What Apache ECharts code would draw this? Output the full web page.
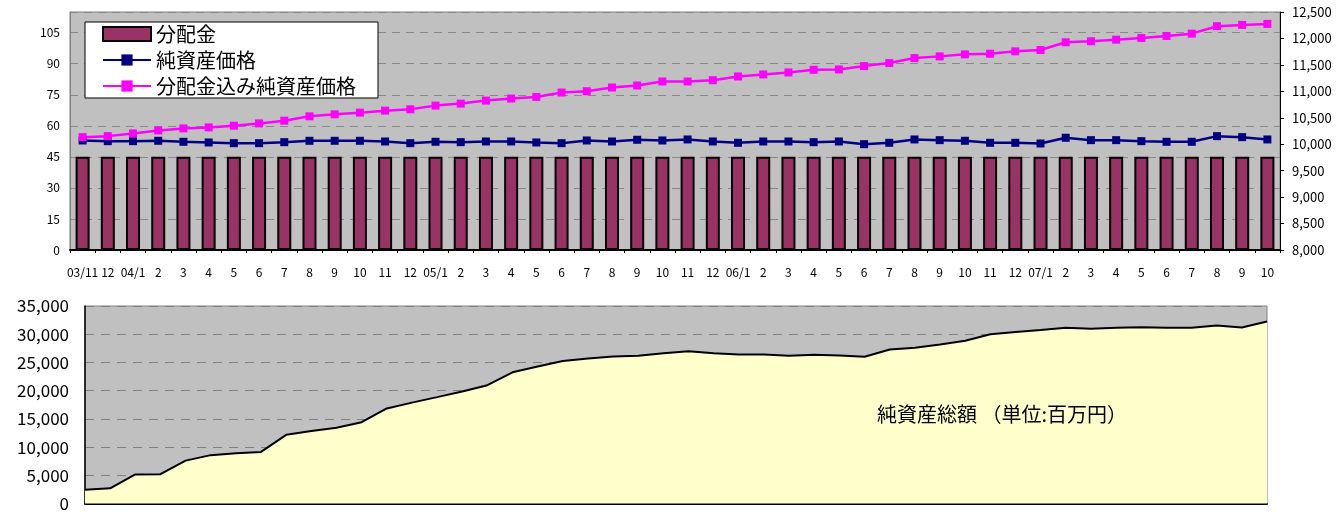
<!DOCTYPE html>
<html>
<head>
<meta charset="utf-8">
<script src="https://cdn.jsdelivr.net/npm/echarts@6/dist/echarts.min.js"></script>
<style>
html,body{margin:0;padding:0;background:#fff;}
#c{width:1337px;height:512px;}
</style>
</head>
<body>
<div id="c"></div>
<script>
var categories = ['03/11','12','04/1','2','3','4','5','6','7','8','9','10','11','12',
  '05/1','2','3','4','5','6','7','8','9','10','11','12',
  '06/1','2','3','4','5','6','7','8','9','10','11','12',
  '07/1','2','3','4','5','6','7','8','9','10'];
var bunpaikin = [45,45,45,45,45,45,45,45,45,45,45,45,45,45,45,45,45,45,45,45,45,45,45,45,
  45,45,45,45,45,45,45,45,45,45,45,45,45,45,45,45,45,45,45,45,45,45,45,45];
var nav = [10071,10058,10058,10065,10046,10033,10020,10020,10039,10065,10065,10065,10052,10020,
  10046,10039,10052,10052,10033,10020,10071,10052,10084,10071,10090,10052,10027,10052,10052,
  10039,10052,10001,10027,10090,10077,10065,10027,10027,10014,10122,10077,10077,10058,10046,
  10046,10153,10134,10090];
var navWithDiv = [10134,10153,10204,10261,10299,10318,10350,10394,10445,10527,10565,10597,10635,
  10660,10730,10768,10825,10863,10894,10977,11002,11072,11110,11186,11186,11211,11281,11319,
  11357,11407,11414,11477,11534,11629,11661,11699,11711,11756,11781,11927,11946,11977,12009,
  12047,12091,12231,12256,12275];
var totalAssets = [2450,2690,5140,5200,7600,8570,8910,9140,12170,12860,13430,14400,16850,17880,
  18850,19850,20970,23250,24280,25250,25710,26050,26170,26620,26960,26620,26400,26400,26170,
  26340,26230,26000,27300,27600,28160,28850,30000,30390,30740,31140,30970,31140,31250,31140,
  31140,31540,31200,32270];
var leftTicks = {min:0, max:115, interval:15};
var rightTicks = {min:8000, max:12500, interval:500};
var bottomTicks = {min:0, max:35000, interval:5000};

var FONT = "'Noto Sans CJK JP', 'Noto Sans', sans-serif";
var fmt = function(v){ return Number(v).toLocaleString('en-US'); };
var chart = echarts.init(document.getElementById('c'), null, {renderer:'canvas'});
chart.setOption({
  animation:false,
  textStyle:{fontFamily:FONT},
  grid:[
    {left:70, right:57, top:12, height:238, show:true, backgroundColor:'#C0C0C0', borderColor:'#808080', borderWidth:1},
    {left:85, right:70, top:306, height:204, show:true, backgroundColor:'#C0C0C0', borderColor:'#808080', borderWidth:1}
  ],
  legend:{
    left:85, top:22, orient:'vertical', backgroundColor:'#fff', borderColor:'#000', borderWidth:1,
    padding:[2,22,2,17], itemWidth:48, itemHeight:14, itemGap:6,
    textStyle:{fontFamily:FONT, fontSize:20, color:'#000'},
    data:[{name:'分配金', icon:'rect'}, {name:'純資産価格'}, {name:'分配金込み純資産価格'}]
  },
  xAxis:[
    {type:'category', gridIndex:0, data:categories, boundaryGap:true,
      axisLine:{lineStyle:{color:'#000', width:2}},
      axisTick:{show:true, length:3, lineStyle:{color:'#000'}},
      axisLabel:{interval:0, margin:16, fontSize:12, color:'#000', fontFamily:FONT}},
    {type:'category', gridIndex:1, data:categories, boundaryGap:false,
      axisLine:{lineStyle:{color:'#000', width:2}},
      axisTick:{show:false}, axisLabel:{show:false}}
  ],
  yAxis:[
    {type:'value', gridIndex:0, position:'left', min:leftTicks.min, max:leftTicks.max, interval:leftTicks.interval,
      axisLine:{show:true, lineStyle:{color:'#808080'}}, axisTick:{show:false},
      axisLabel:{showMaxLabel:false, fontSize:12, color:'#000', margin:10, fontFamily:FONT},
      splitLine:{show:true, lineStyle:{color:'#888', type:[8,6], width:1}}},
    {type:'value', gridIndex:0, position:'right', min:rightTicks.min, max:rightTicks.max, interval:rightTicks.interval,
      axisLine:{show:true, lineStyle:{color:'#000'}}, axisTick:{show:true, length:4, lineStyle:{color:'#000'}},
      axisLabel:{fontSize:13, color:'#000', margin:12, formatter:fmt, fontFamily:FONT},
      splitLine:{show:false}},
    {type:'value', gridIndex:1, min:bottomTicks.min, max:bottomTicks.max, interval:bottomTicks.interval,
      axisLine:{show:true, lineStyle:{color:'#000', width:1.5}}, axisTick:{show:false},
      axisLabel:{fontSize:17, color:'#000', margin:16, formatter:fmt, fontFamily:FONT},
      splitLine:{show:true, lineStyle:{color:'#808080', type:[9,7], width:1}}}
  ],
  series:[
    {name:'分配金', type:'bar', xAxisIndex:0, yAxisIndex:0, data:bunpaikin, barWidth:14,
      itemStyle:{color:'#993366', borderColor:'#000', borderWidth:2}},
    {name:'純資産価格', type:'line', xAxisIndex:0, yAxisIndex:1, data:nav,
      symbol:'rect', symbolSize:8, itemStyle:{color:'#000080'}, lineStyle:{color:'#000080', width:2.5}},
    {name:'分配金込み純資産価格', type:'line', xAxisIndex:0, yAxisIndex:1, data:navWithDiv,
      symbol:'rect', symbolSize:8, itemStyle:{color:'#FF00FF'}, lineStyle:{color:'#FF00FF', width:2.5}},
    {name:'純資産総額', type:'line', xAxisIndex:1, yAxisIndex:2, data:totalAssets, symbol:'none',
      lineStyle:{color:'#000', width:2}, areaStyle:{color:'#FFFFCC', opacity:1}}
  ],
  graphic:[
    {type:'text', left:877, top:404, z:100, zlevel:1, style:{text:'純資産総額 （単位:百万円）', fontSize:20, fontFamily:FONT, fill:'#000'}}
  ]
});
</script>
</body>
</html>
